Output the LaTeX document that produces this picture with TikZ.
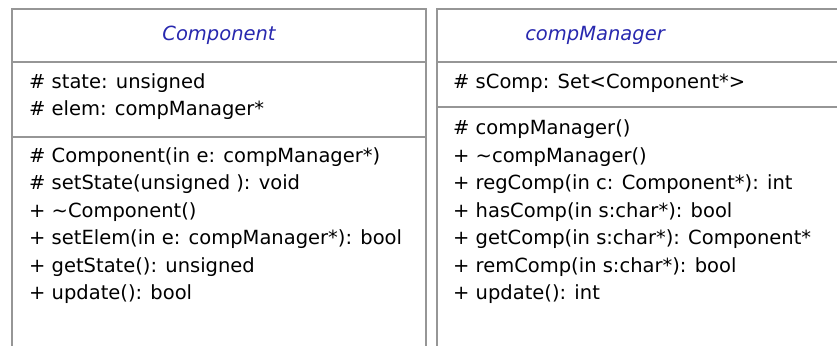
\documentclass[tikz,border=0pt]{standalone}
\usepackage{fontspec}
\setmainfont{DejaVu Sans}[ItalicFont={DejaVu Sans Oblique}]
\usetikzlibrary{positioning}
\definecolor{umlblue}{RGB}{40,40,175}
\definecolor{umlline}{RGB}{150,150,150}
\tikzset{
  frame/.style={draw=umlline, line width=1.5pt},
  member/.style={anchor=west, inner sep=0pt, text height=14pt, text depth=4pt,
    font=\fontsize{19.5}{22}\selectfont},
  classname/.style={member, anchor=center, text=umlblue,
    font=\fontsize{19.5}{22}\selectfont\itshape},
}

\begin{document}
\begin{tikzpicture}[x=1pt, y=-1pt]
  \useasboundingbox[fill=white] (0,0) rectangle (837,345);
  % class Component
  \draw[frame] (12,350) -- (12,9) -- (426,9) -- (426,350);
  \draw[frame] (12,62) -- (426,62);
  \draw[frame] (12,137) -- (426,137);
  \node[classname] (comp) at (219,36) {Component};
  \node[member] (state) at (29,83) {\# state: unsigned};
  \node[member] (elem) at (29,110) {\# elem: compManager*};
  \node[member] (ctor) at (29,157) {\# Component(in e: compManager*)};
  \node[member] (setstate) at (29,184) {\# setState(unsigned ): void};
  \node[member] (dtor) at (29,212) {+ \textasciitilde Component()};
  \node[member] (setelem) at (29,239) {+ setElem(in e: compManager*): bool};
  \node[member] (getstate) at (29,267) {+ getState(): unsigned};
  \node[member] (upd) at (29,294) {+ update(): bool};

  % class compManager
  \draw[frame] (437,350) -- (437,9) -- (845,9);
  \draw[frame] (437,62) -- (845,62);
  \draw[frame] (437,107) -- (845,107);
  \node[classname] (mgr) at (595,36) {compManager};
  \node[member] (scomp) at (453,83) {\# sComp: Set<Component*>};
  \node[member] (mctor) at (453,129) {\# compManager()};
  \node[member] (mdtor) at (453,157) {+ \textasciitilde compManager()};
  \node[member] (reg) at (453,184) {+ regComp(in c: Component*): int};
  \node[member] (has) at (453,212) {+ hasComp(in s:char*): bool};
  \node[member] (get) at (453,239) {+ getComp(in s:char*): Component*};
  \node[member] (rem) at (453,267) {+ remComp(in s:char*): bool};
  \node[member] (mupd) at (453,294) {+ update(): int};
\end{tikzpicture}
\end{document}
